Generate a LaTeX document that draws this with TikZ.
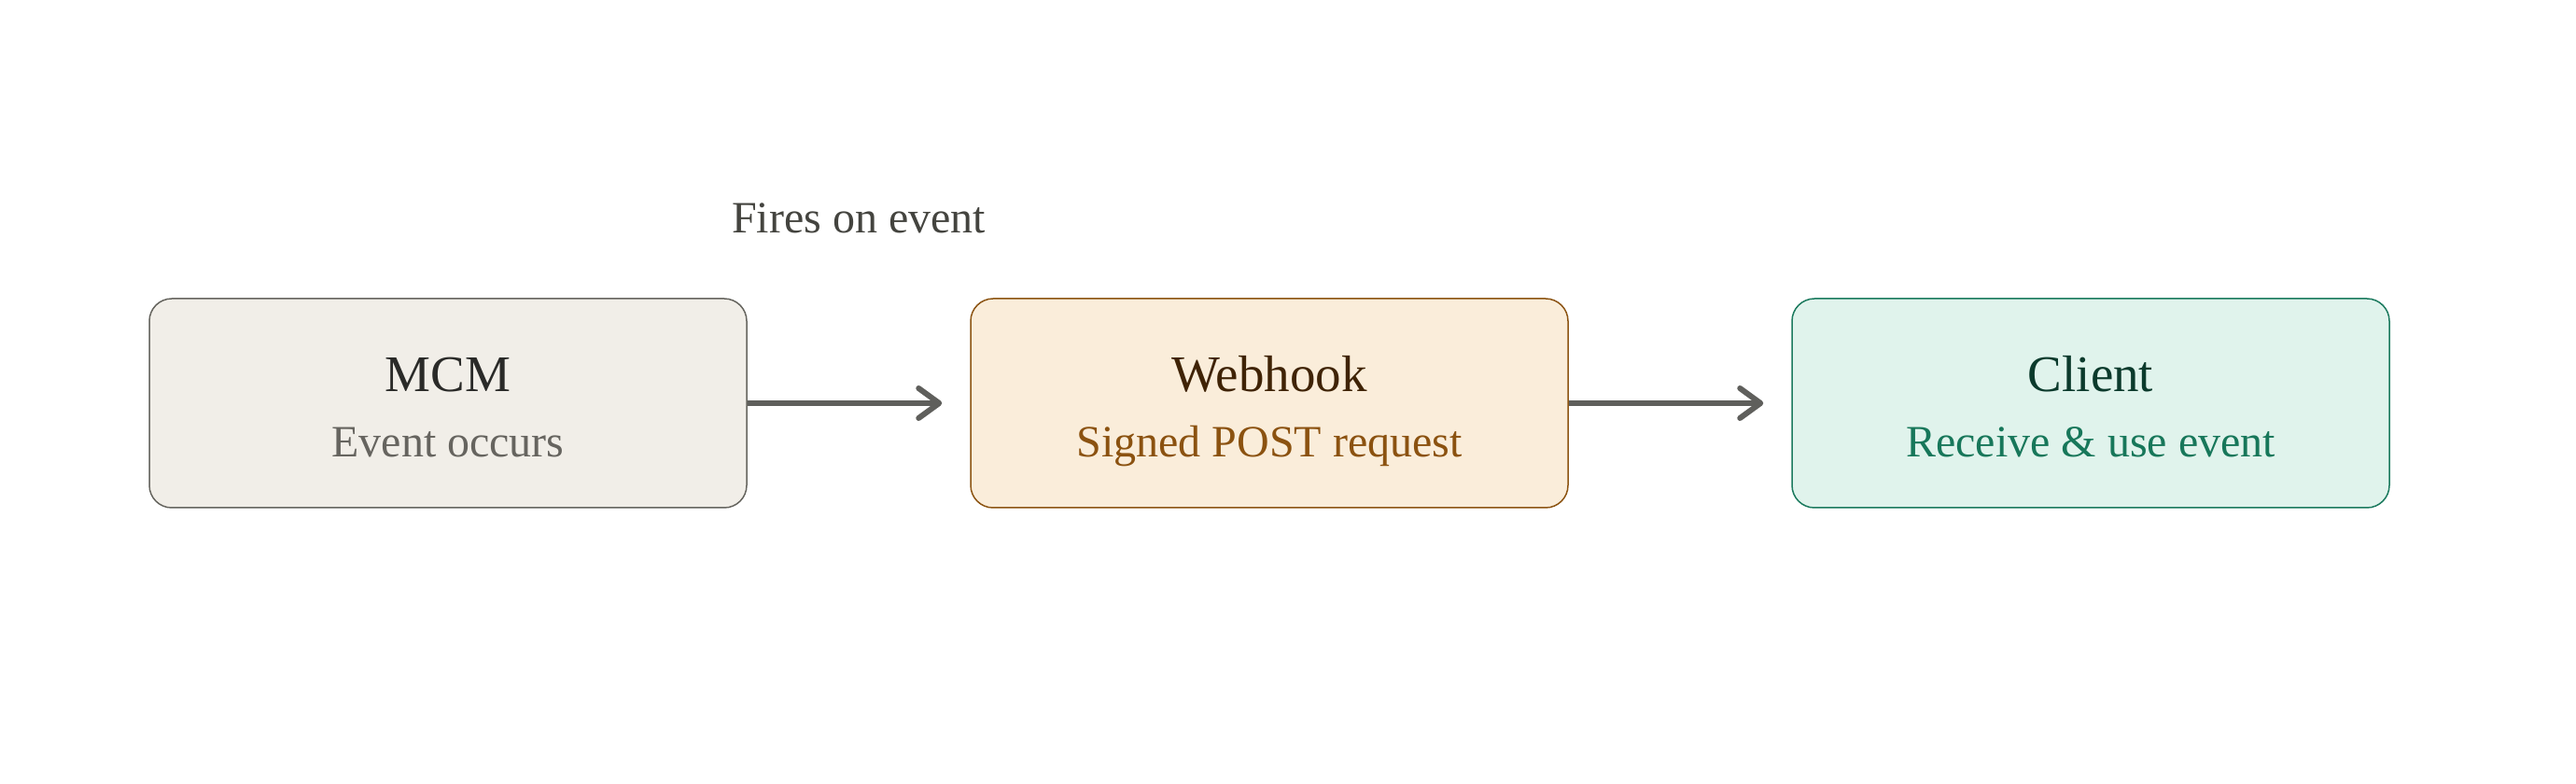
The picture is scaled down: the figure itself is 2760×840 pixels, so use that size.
\documentclass[tikz,border=0pt]{standalone}
\usepackage{fontspec}
\setmainfont{Liberation Serif}
\usepackage{xcolor}
\usetikzlibrary{positioning,arrows.meta,calc}

\definecolor{mcmfill}{HTML}{F1EEE8}
\definecolor{mcmdraw}{HTML}{66655F}
\definecolor{mcmtitle}{HTML}{2A2A28}
\definecolor{mcmsub}{HTML}{66645F}
\definecolor{hookfill}{HTML}{FAEDDA}
\definecolor{hookdraw}{HTML}{8C5412}
\definecolor{hooktitle}{HTML}{3F2305}
\definecolor{hooksub}{HTML}{8B5210}
\definecolor{clientfill}{HTML}{E0F3EC}
\definecolor{clientdraw}{HTML}{1B7A5E}
\definecolor{clienttitle}{HTML}{0B3A2C}
\definecolor{clientsub}{HTML}{17775A}
\definecolor{flowline}{HTML}{5F5F5C}
\definecolor{labeltext}{HTML}{44443F}

\begin{document}
\begin{tikzpicture}[
    x=1pt, y=1pt,
    node distance=238.5pt,
    box/.style={
        draw,
        rectangle,
        rounded corners=24pt,
        line width=1.5pt,
        minimum width=640pt,
        minimum height=224pt
    },
    title/.style={anchor=base, font=\fontsize{55}{60}\selectfont},
    subtitle/.style={anchor=base, font=\fontsize{48}{54}\selectfont},
    flow/.style={-{Straight Barb[length=22pt,width=32pt,line cap=round,line join=round]},
        line width=6pt, color=flowline, shorten >=30pt}
]
\useasboundingbox (0,0) rectangle (2760,840);

\node[box, fill=mcmfill, draw=mcmdraw] (mcm) at (480,408) {};
\node[box, fill=hookfill, draw=hookdraw, right=of mcm] (webhook) {};
\node[box, fill=clientfill, draw=clientdraw, right=of webhook] (client) {};

\node[title, text=mcmtitle] (mcmname) at ([yshift=12pt]mcm.center) {MCM};
\node[subtitle, text=mcmsub] (mcmdesc) at ([yshift=-58pt]mcm.center) {Event occurs};
\node[title, text=hooktitle] (webhookname) at ([yshift=12pt]webhook.center) {Webhook};
\node[subtitle, text=hooksub] (webhookdesc) at ([yshift=-58pt]webhook.center) {Signed POST request};
\node[title, text=clienttitle] (clientname) at ([yshift=12pt]client.center) {Client};
\node[subtitle, text=clientsub] (clientdesc) at ([yshift=-58pt]client.center) {Receive \& use event};

\node[subtitle, text=labeltext] (fires) at ($(mcm.east)!0.5!(webhook.west)+(0,182)$) {Fires on event};

\draw[flow] (mcm.east) -- (webhook.west);
\draw[flow] (webhook.east) -- (client.west);

\end{tikzpicture}
\end{document}
